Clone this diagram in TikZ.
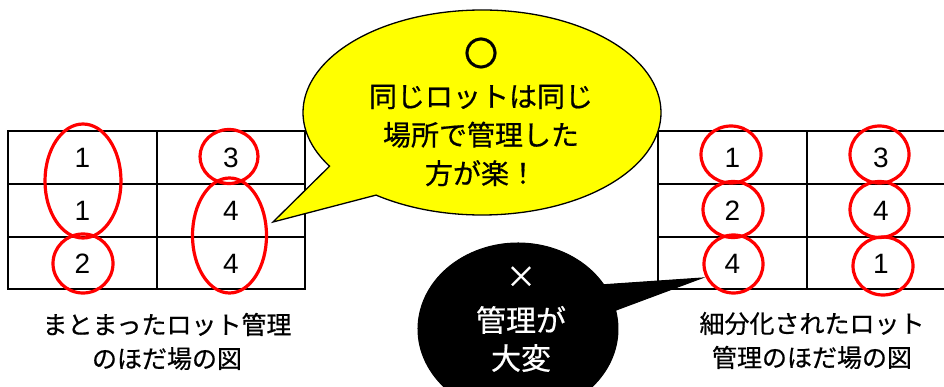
\documentclass[tikz,border=0pt]{standalone}
\usepackage{fontspec}
\setmainfont{Noto Sans CJK JP}[FakeBold=0.6]
\newfontfamily\digitfont{Liberation Sans}
\usetikzlibrary{calc}
\definecolor{bubbleyellow}{HTML}{FFFF00}
\definecolor{lotred}{HTML}{FF0000}
\begin{document}
\begin{tikzpicture}[x=1pt,y=-1pt,
  grid/.style={line width=2pt, draw=black},
  lot/.style={draw=lotred, line width=3.2pt},
  num/.style={font=\digitfont\fontsize{28pt}{30pt}\selectfont, inner sep=0pt},
  captiontext/.style={font=\fontsize{25pt}{34pt}\selectfont, align=center, inner sep=0pt},
  goodbubble/.style={fill=bubbleyellow, draw=black, line width=1.3pt},
  badbubble/.style={fill=black, draw=black, line width=1pt},
  goodtext/.style={font=\fontsize{28pt}{38.5pt}\selectfont, align=center, inner sep=0pt},
  badtext/.style={font=\fontsize{30pt}{38pt}\selectfont, align=center, inner sep=0pt, text=white}]
\useasboundingbox (0,0) rectangle (944,387);
\clip (0,0) rectangle (944,387);
\fill[white] (0,0) rectangle (944,387);

% left table
\draw[grid] (8,131) rectangle (305,289);
\draw[grid] (157,131) -- (157,289);
\draw[grid] (8,184) -- (305,184);
\draw[grid] (8,237) -- (305,237);
\node[num] (L11) at (82.5,158) {1};
\node[num] (L12) at (231,158) {3};
\node[num] (L21) at (82.5,211) {1};
\node[num] (L22) at (231,211) {4};
\node[num] (L31) at (82.5,264) {2};
\node[num] (L32) at (231,264) {4};

% right table
\draw[grid] (658,131) rectangle (955,289);
\draw[grid] (807,131) -- (807,289);
\draw[grid] (658,184) -- (955,184);
\draw[grid] (658,237) -- (955,237);
\node[num] (R11) at (732.5,158) {1};
\node[num] (R12) at (881,158) {3};
\node[num] (R21) at (732.5,211) {2};
\node[num] (R22) at (881,211) {4};
\node[num] (R31) at (732.5,264) {4};
\node[num] (R32) at (881,264) {1};

% captions
\node[captiontext] (capL) at (167,341.5) {まとまったロット管理\\のほだ場の図};
\node[captiontext] (capR) at (812,340.5) {細分化されたロット\\管理のほだ場の図};

% yellow speech bubble
\coordinate (yc) at (482,112.5);
\coordinate (ytip) at (273,222);
\draw[goodbubble] ($(yc)+(233.7:179pt and 102.5pt)$)
  arc[start angle=233.7, end angle=571.6, x radius=179pt, y radius=102.5pt]
  -- (ytip) -- cycle;
\node[goodtext] (goodmark) at (481,53) {\fontsize{34pt}{36pt}\selectfont 〇};
\node[goodtext] (good) at (481,135.5) {同じロットは同じ\\場所で管理した\\方が楽！};

% black speech bubble
\coordinate (bc) at (518,329);
\coordinate (btip) at (702,278);
\draw[badbubble] ($(bc)+(31:100pt and 86pt)$)
  arc[start angle=31, end angle=372.6, x radius=100pt, y radius=86pt]
  -- (btip) -- cycle;
\node[badtext] (badmark) at (521,277) {×};
\node[badtext] (bad) at (521,339) {管理が\\大変};

% red lot marks, left
\draw[lot] (83,181) ellipse [x radius=38pt, y radius=57pt];
\draw[lot] (83,263.5) ellipse [x radius=30pt, y radius=29.5pt];
\draw[lot] (229,156.5) ellipse [x radius=29pt, y radius=27pt];
\draw[lot] (229.5,235.5) ellipse [x radius=37pt, y radius=57.5pt];

% red lot marks, right
\draw[lot] (731,154.5) ellipse [x radius=30pt, y radius=28.5pt];
\draw[lot] (879.5,154.5) ellipse [x radius=29.5pt, y radius=28.5pt];
\draw[lot] (733,209.5) ellipse [x radius=30pt, y radius=28pt];
\draw[lot] (879.5,209.5) ellipse [x radius=29.5pt, y radius=28pt];
\draw[lot] (733.5,264) ellipse [x radius=29.5pt, y radius=29pt];
\draw[lot] (883,266) ellipse [x radius=30pt, y radius=29pt];
\end{tikzpicture}
\end{document}
